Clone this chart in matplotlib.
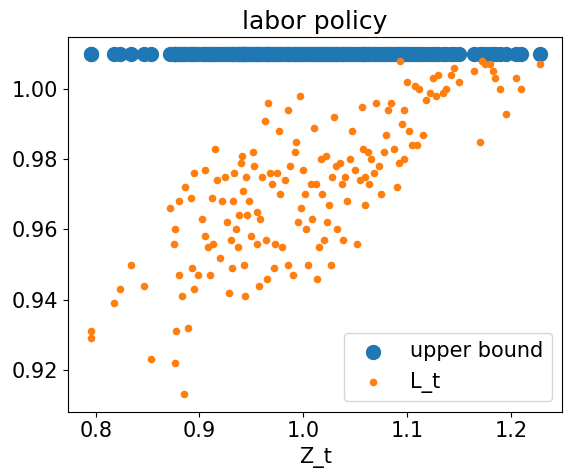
import matplotlib
matplotlib.use("Agg")
import matplotlib.pyplot as plt

pts = [(0.795,0.931),(0.795,0.929),(0.818,0.939),(0.823,0.943),(0.834,0.950),(0.847,0.944),(0.853,0.923),(0.872,0.966),(0.876,0.960),(0.875,0.956),(0.877,0.931),(0.876,0.922),(0.880,0.947),(0.880,0.968),(0.883,0.941),(0.885,0.913),(0.886,0.972),(0.889,0.932),(0.892,0.969),(0.893,0.949),(0.895,0.943),(0.895,0.976),(0.899,0.947),(0.902,0.963),(0.905,0.977),(0.905,0.958),(0.908,0.955),(0.910,0.947),(0.912,0.969),(0.913,0.956),(0.915,0.983),(0.917,0.974),(0.920,0.952),(0.922,0.968),(0.925,0.975),(0.927,0.962),(0.928,0.942),(0.930,0.957),(0.931,0.949),(0.932,0.968),(0.933,0.976),(0.935,0.960),(0.937,0.955),(0.938,0.964),(0.940,0.979),(0.941,0.981),(0.942,0.971),(0.943,0.950),(0.944,0.941),(0.945,0.975),(0.946,0.964),(0.948,0.968),(0.950,0.958),(0.952,0.982),(0.953,0.978),(0.955,0.956),(0.957,0.944),(0.958,0.963),(0.960,0.975),(0.963,0.991),(0.964,0.957),(0.965,0.946),(0.966,0.996),(0.968,0.976),(0.970,0.973),(0.972,0.949),(0.973,0.956),(0.975,0.976),(0.977,0.988),(0.978,0.970),(0.980,0.955),(0.982,0.974),(0.985,0.994),(0.987,0.978),(0.990,0.947),(0.992,0.982),(0.993,0.985),(0.995,0.962),(0.997,0.998),(0.998,0.966),(1.000,0.977),(1.002,0.970),(1.003,0.960),(1.005,0.950),(1.007,0.973),(1.008,0.963),(1.010,0.989),(1.012,0.973),(1.013,0.946),(1.015,0.955),(1.017,0.980),(1.018,0.970),(1.020,0.957),(1.022,0.981),(1.023,0.962),(1.025,0.967),(1.027,0.950),(1.028,0.975),(1.030,0.992),(1.032,0.978),(1.033,0.960),(1.035,0.979),(1.037,0.973),(1.038,0.957),(1.040,0.975),(1.042,0.968),(1.045,0.980),(1.047,0.988),(1.050,0.977),(1.052,0.956),(1.055,0.974),(1.057,0.995),(1.058,0.983),(1.060,0.967),(1.062,0.982),(1.063,0.973),(1.065,0.980),(1.068,0.976),(1.070,0.996),(1.073,0.978),(1.075,0.970),(1.078,0.982),(1.080,0.987),(1.082,0.994),(1.085,0.996),(1.087,0.983),(1.090,0.972),(1.092,0.979),(1.093,1.008),(1.095,0.990),(1.097,0.980),(1.100,1.002),(1.102,0.988),(1.105,0.984),(1.108,1.001),(1.110,0.984),(1.112,1.000),(1.115,0.987),(1.118,0.997),(1.122,0.999),(1.125,1.003),(1.128,0.998),(1.130,1.004),(1.135,0.999),(1.138,1.000),(1.142,1.004),(1.145,1.006),(1.150,1.002),(1.165,1.005),(1.170,0.985),(1.172,1.008),(1.175,1.007),(1.180,1.007),(1.183,1.005),(1.185,1.003),(1.190,1.000),(1.195,0.993),(1.205,1.003),(1.210,1.000),(1.228,1.007),(1.097,0.994),(1.060,0.975),(0.955,0.965),(0.985,0.950)]
z_t = [p[0] for p in pts]
l_t = [p[1] for p in pts]
upper = 1.01

plt.rcParams['font.size'] = 15
fig, ax = plt.subplots(figsize=(5.72, 4.73), dpi=100)
fig.subplots_adjust(left=0.119, right=0.983, top=0.922, bottom=0.13)
ax.scatter(z_t, [upper]*len(z_t), s=100, color='#1f77b4', label='upper bound')
ax.scatter(z_t, l_t, s=20, color='#ff7f0e', label='L_t')
ax.set_title('labor policy')
ax.set_xlabel('Z_t')
ax.legend(loc='lower right')
fig.savefig('out.png')
